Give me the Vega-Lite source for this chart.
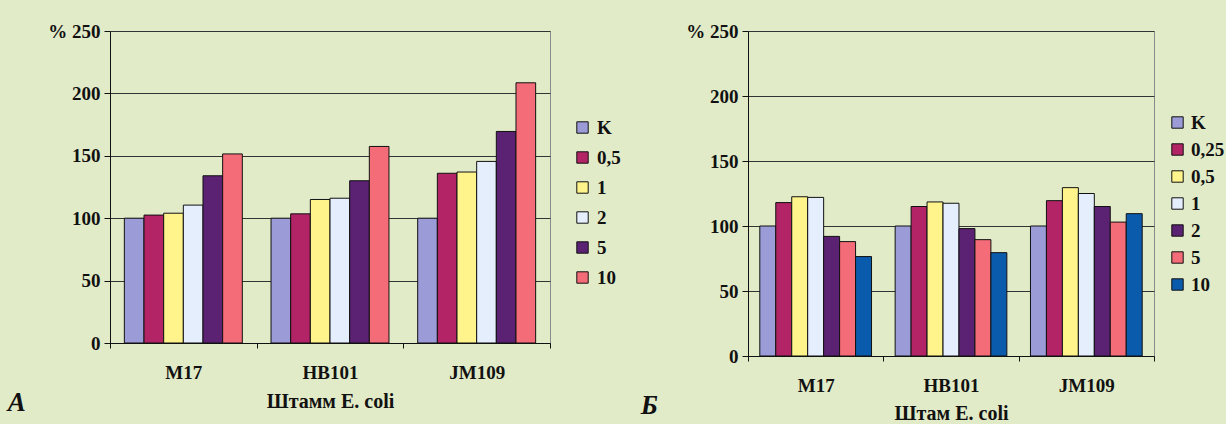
{
  "$schema": "https://vega.github.io/schema/vega-lite/v6.json",
  "background": "#E2EBC8",
  "padding": {"left": 7, "top": 21, "right": 0, "bottom": 0},
  "config": {
    "view": {"stroke": "#8a8a8a", "strokeWidth": 1, "fill": "#E2EBC8"},
    "font": "Liberation Serif",
    "axis": {"labelFont": "Liberation Serif", "labelFontWeight": "bold", "labelFontSize": 19, "labelColor": "#111", "domainColor": "#111", "tickColor": "#111", "titleFont": "Liberation Serif", "titleFontWeight": "bold", "titleFontSize": 20, "titleColor": "#111"},
    "legend": {"labelFont": "Liberation Serif", "labelFontWeight": "bold", "labelFontSize": 19, "labelColor": "#111", "symbolType": "square", "symbolSize": 130, "symbolStrokeColor": "#111", "symbolStrokeWidth": 1, "symbolOpacity": 1, "labelOffset": 5, "padding": 0}
  },
  "datasets": {
    "a": [
      {"strain": "M17", "dose": "K", "value": 100},
      {"strain": "M17", "dose": "0,5", "value": 102.5},
      {"strain": "M17", "dose": "1", "value": 104},
      {"strain": "M17", "dose": "2", "value": 110.5},
      {"strain": "M17", "dose": "5", "value": 134},
      {"strain": "M17", "dose": "10", "value": 151.5},
      {"strain": "HB101", "dose": "K", "value": 100},
      {"strain": "HB101", "dose": "0,5", "value": 103.5},
      {"strain": "HB101", "dose": "1", "value": 115},
      {"strain": "HB101", "dose": "2", "value": 116},
      {"strain": "HB101", "dose": "5", "value": 130},
      {"strain": "HB101", "dose": "10", "value": 157.5},
      {"strain": "JM109", "dose": "K", "value": 100},
      {"strain": "JM109", "dose": "0,5", "value": 136},
      {"strain": "JM109", "dose": "1", "value": 137},
      {"strain": "JM109", "dose": "2", "value": 145.5},
      {"strain": "JM109", "dose": "5", "value": 169.5},
      {"strain": "JM109", "dose": "10", "value": 208.5}
    ],
    "b": [
      {"strain": "M17", "dose": "K", "value": 100},
      {"strain": "M17", "dose": "0,25", "value": 118},
      {"strain": "M17", "dose": "0,5", "value": 122.5},
      {"strain": "M17", "dose": "1", "value": 122},
      {"strain": "M17", "dose": "2", "value": 92},
      {"strain": "M17", "dose": "5", "value": 88},
      {"strain": "M17", "dose": "10", "value": 76.5},
      {"strain": "HB101", "dose": "K", "value": 100},
      {"strain": "HB101", "dose": "0,25", "value": 115},
      {"strain": "HB101", "dose": "0,5", "value": 118.5},
      {"strain": "HB101", "dose": "1", "value": 117.5},
      {"strain": "HB101", "dose": "2", "value": 98},
      {"strain": "HB101", "dose": "5", "value": 89.5},
      {"strain": "HB101", "dose": "10", "value": 79.5},
      {"strain": "JM109", "dose": "K", "value": 100},
      {"strain": "JM109", "dose": "0,25", "value": 119.5},
      {"strain": "JM109", "dose": "0,5", "value": 129.5},
      {"strain": "JM109", "dose": "1", "value": 125},
      {"strain": "JM109", "dose": "2", "value": 115},
      {"strain": "JM109", "dose": "5", "value": 103},
      {"strain": "JM109", "dose": "10", "value": 109.5}
    ]
  },
  "hconcat": [
    {
      "width": 440,
      "height": 312,
      "data": {"name": "a"},
      "title": {"text": "А", "orient": "bottom", "anchor": "start", "frame": "bounds", "dx": -40, "dy": -25, "fontSize": 27, "fontStyle": "italic", "fontWeight": "bold", "font": "Liberation Serif", "color": "#111"},
      "mark": {"type": "bar", "stroke": "#111", "strokeWidth": 1},
      "encoding": {
        "x": {"field": "strain", "type": "nominal", "sort": ["M17", "HB101", "JM109"], "scale": {"paddingInner": 0, "paddingOuter": 0},
          "axis": {"title": "Штамм E. coli", "labelAngle": 0, "tickBand": "extent", "tickSize": 5, "labelPadding": 15, "titlePadding": 9}},
        "xOffset": {"field": "dose", "type": "nominal", "sort": ["K", "0,5", "1", "2", "5", "10"], "scale": {"paddingInner": 0, "paddingOuter": 0.73}},
        "y": {"field": "value", "type": "quantitative", "scale": {"domain": [0, 250], "nice": false},
          "axis": {"values": [0, 50, 100, 150, 200, 250], "grid": true, "gridColor": "#333", "title": null, "tickSize": 6, "labelPadding": 4, "labelExpr": "datum.value == 250 ? '% 250' : datum.label"}},
        "color": {"field": "dose", "type": "nominal",
          "scale": {"domain": ["K", "0,5", "1", "2", "5", "10"], "range": ["#9B9BD8", "#B22466", "#FFF48C", "#E4EEFC", "#5B2273", "#F46C78"]},
          "legend": {"title": null, "orient": "none", "legendX": 463, "legendY": 87, "rowPadding": 10}}
      }
    },
    {
      "width": 406,
      "height": 325,
      "data": {"name": "b"},
      "title": {"text": "Б", "orient": "bottom", "anchor": "start", "frame": "bounds", "dx": -45, "dy": -34, "fontSize": 27, "fontStyle": "italic", "fontWeight": "bold", "font": "Liberation Serif", "color": "#111"},
      "mark": {"type": "bar", "stroke": "#111", "strokeWidth": 1},
      "encoding": {
        "x": {"field": "strain", "type": "nominal", "sort": ["M17", "HB101", "JM109"], "scale": {"paddingInner": 0, "paddingOuter": 0},
          "axis": {"title": "Штам E. coli", "labelAngle": 0, "tickBand": "extent", "tickSize": 5, "labelPadding": 15, "titlePadding": 8}},
        "xOffset": {"field": "dose", "type": "nominal", "sort": ["K", "0,25", "0,5", "1", "2", "5", "10"], "scale": {"paddingInner": 0, "paddingOuter": 0.74}},
        "y": {"field": "value", "type": "quantitative", "scale": {"domain": [0, 250], "nice": false},
          "axis": {"values": [0, 50, 100, 150, 200, 250], "grid": true, "gridColor": "#333", "title": null, "tickSize": 6, "labelPadding": 4, "labelExpr": "datum.value == 250 ? '% 250' : datum.label"}},
        "color": {"field": "dose", "type": "nominal",
          "scale": {"domain": ["K", "0,25", "0,5", "1", "2", "5", "10"], "range": ["#9B9BD8", "#B22466", "#FFF48C", "#E4EEFC", "#5B2273", "#F46C78", "#0B5BAD"]},
          "legend": {"title": null, "orient": "none", "legendX": 420, "legendY": 82, "rowPadding": 7, "labelOffset": 4}}
      }
    }
  ],
  "spacing": 18,
  "resolve": {"scale": {"color": "independent", "xOffset": "independent", "x": "independent", "y": "independent"}, "legend": {"color": "independent"}}
}
